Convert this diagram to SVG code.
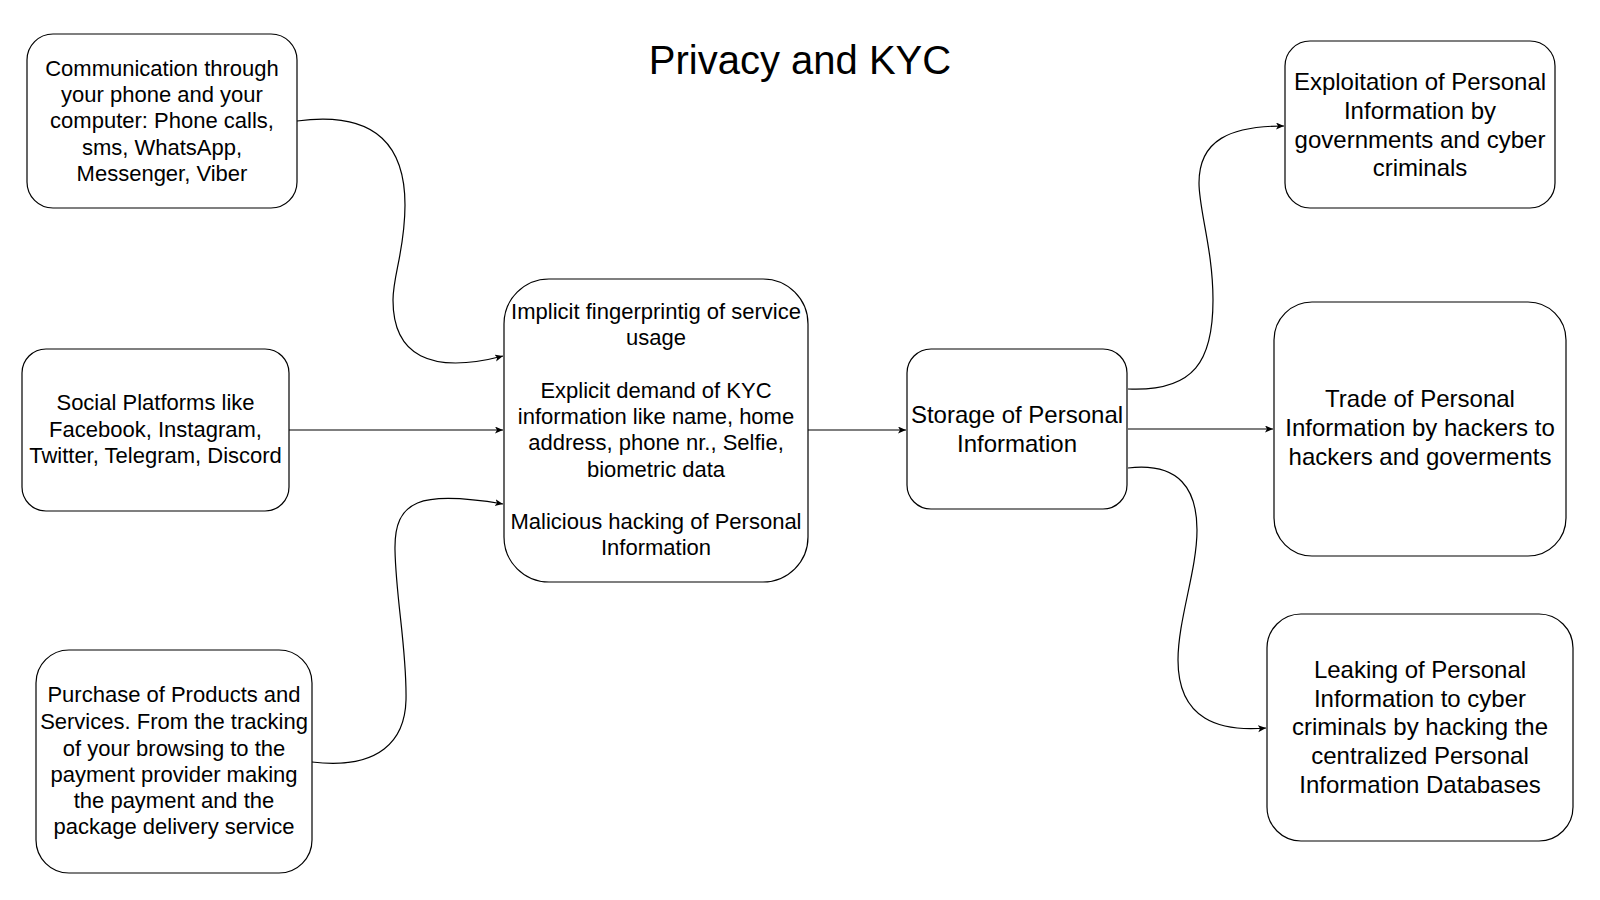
<svg xmlns="http://www.w3.org/2000/svg" width="1600" height="900" viewBox="0 0 1600 900">
<style>
.box{fill:#ffffff;stroke:#000000;stroke-width:1.2}
.t{font-family:"Liberation Sans",Arial,sans-serif;font-size:22px;fill:#000000;text-anchor:middle}
.t24{font-family:"Liberation Sans",Arial,sans-serif;font-size:24px;fill:#000000;text-anchor:middle}
.edge{fill:none;stroke:#000000;stroke-width:1.2;marker-end:url(#arr)}
</style>
<defs>
<marker id="arr" markerWidth="9" markerHeight="8" refX="8" refY="3.5" orient="auto" markerUnits="userSpaceOnUse">
<path d="M0,0 L8,3.5 L0,7 L2,3.5 z" fill="#000000"/>
</marker>
</defs>
<rect width="1600" height="900" fill="#ffffff"/>
<text id="title" x="800" y="74" font-family="Liberation Sans, Arial, sans-serif" font-size="40" text-anchor="middle" fill="#000000">Privacy and KYC</text>

<g id="connectors">
<path class="edge" d="M297,121 C380,110 405,150 405,205 C405,250 393,275 393,300 C393,355 430,375 503,356"/>
<path class="edge" d="M289,430 L503,430"/>
<path class="edge" d="M312,762 C380,770 405,740 406,700 C407,650 396,600 395,550 C394,500 420,490 503,504"/>
<path class="edge" d="M808,430 L906,430"/>
<path class="edge" d="M1128,389 C1195,392 1213,360 1213,300 C1213,250 1199,210 1199,183 C1199,140 1230,126 1284,126"/>
<path class="edge" d="M1128,429 L1273,429"/>
<path class="edge" d="M1128,468 C1180,462 1197,490 1197,530 C1197,570 1178,620 1178,660 C1178,720 1220,732 1266,728"/>
</g>

<g id="node-communication">
<rect class="box" x="27" y="34" width="270" height="174" rx="26" ry="26"/>
<text class="t" x="162" y="76">Communication through</text>
<text class="t" x="162" y="102">your phone and your</text>
<text class="t" x="162" y="128">computer: Phone calls,</text>
<text class="t" x="162" y="155">sms, WhatsApp,</text>
<text class="t" x="162" y="181">Messenger, Viber</text>
</g>

<g id="node-social">
<rect class="box" x="22" y="349" width="267" height="162" rx="24" ry="24"/>
<text class="t" x="155.5" y="410">Social Platforms like</text>
<text class="t" x="155.5" y="437">Facebook, Instagram,</text>
<text class="t" x="155.5" y="463">Twitter, Telegram, Discord</text>
</g>

<g id="node-purchase">
<rect class="box" x="36" y="650" width="276" height="223" rx="33" ry="33"/>
<text class="t" x="174" y="702">Purchase of Products and</text>
<text class="t" x="174" y="729">Services. From the tracking</text>
<text class="t" x="174" y="756">of your browsing to the</text>
<text class="t" x="174" y="782">payment provider making</text>
<text class="t" x="174" y="808">the payment and the</text>
<text class="t" x="174" y="834">package delivery service</text>
</g>

<g id="node-center">
<rect class="box" x="504" y="279" width="304" height="303" rx="45" ry="45"/>
<text class="t" x="656" y="319">Implicit fingerprintig of service</text>
<text class="t" x="656" y="345">usage</text>
<text class="t" x="656" y="398">Explicit demand of KYC</text>
<text class="t" x="656" y="424">information like name, home</text>
<text class="t" x="656" y="450">address, phone nr., Selfie,</text>
<text class="t" x="656" y="477">biometric data</text>
<text class="t" x="656" y="529">Malicious hacking of Personal</text>
<text class="t" x="656" y="555">Information</text>
</g>

<g id="node-storage">
<rect class="box" x="907" y="349" width="220" height="160" rx="24" ry="24"/>
<text class="t24" x="1017" y="423">Storage of Personal</text>
<text class="t24" x="1017" y="452">Information</text>
</g>

<g id="node-exploitation">
<rect class="box" x="1285" y="41" width="270" height="167" rx="25" ry="25"/>
<text class="t24" x="1420" y="90">Exploitation of Personal</text>
<text class="t24" x="1420" y="119">Information by</text>
<text class="t24" x="1420" y="148">governments and cyber</text>
<text class="t24" x="1420" y="176">criminals</text>
</g>

<g id="node-trade">
<rect class="box" x="1274" y="302" width="292" height="254" rx="38" ry="38"/>
<text class="t24" x="1420" y="407">Trade of Personal</text>
<text class="t24" x="1420" y="436">Information by hackers to</text>
<text class="t24" x="1420" y="465">hackers and goverments</text>
</g>

<g id="node-leaking">
<rect class="box" x="1267" y="614" width="306" height="227" rx="34" ry="34"/>
<text class="t24" x="1420" y="678">Leaking of Personal</text>
<text class="t24" x="1420" y="707">Information to cyber</text>
<text class="t24" x="1420" y="735">criminals by hacking the</text>
<text class="t24" x="1420" y="764">centralized Personal</text>
<text class="t24" x="1420" y="793">Information Databases</text>
</g>
</svg>
